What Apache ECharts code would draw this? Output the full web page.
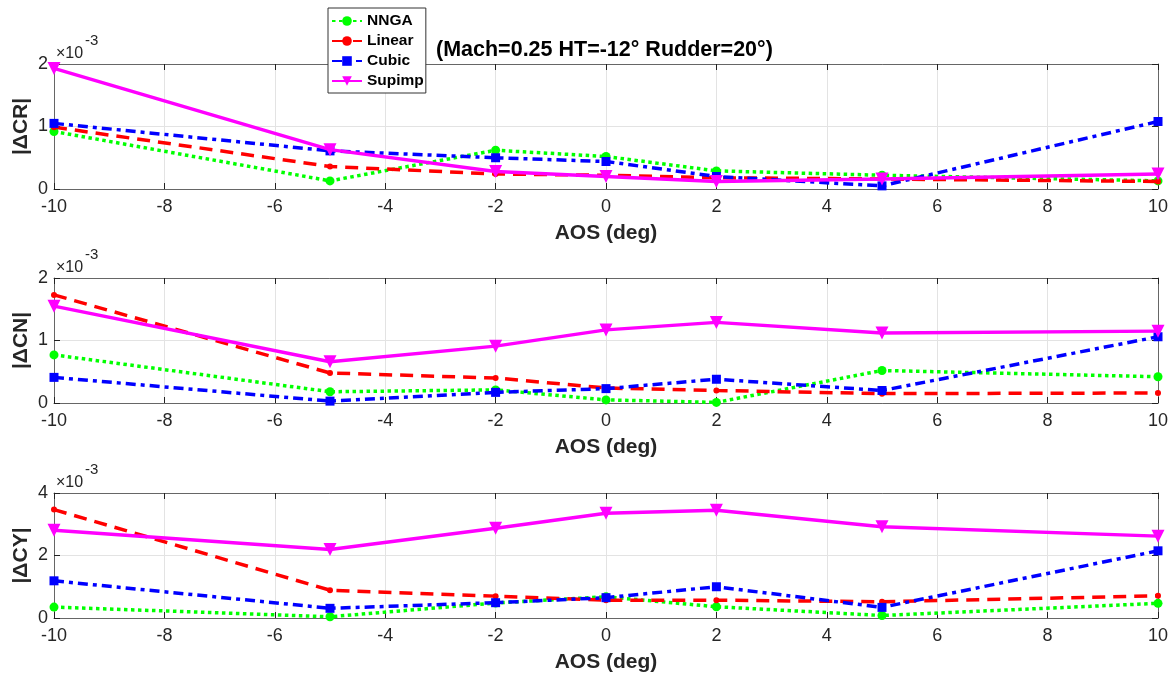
<!DOCTYPE html>
<html>
<head>
<meta charset="utf-8">
<script src="https://cdn.jsdelivr.net/npm/echarts@6/dist/echarts.min.js"></script>
<style>html,body{margin:0;padding:0;background:#fff;}#c{width:1175px;height:678px;}</style>
</head>
<body>
<div id="c"></div>
<script>
// AOS (deg)
const aos = [-10, -5, -2, 0, 2, 5, 10];
const seriesNames = ['NNGA', 'Linear', 'Cubic', 'Supimp'];
// values in units of 1e-3
const crNNGA   = [0.92, 0.13, 0.62, 0.52, 0.29, 0.22, 0.13];
const crLinear = [0.99, 0.36, 0.24, 0.22, 0.18, 0.16, 0.12];
const crCubic  = [1.05, 0.61, 0.50, 0.44, 0.20, 0.05, 1.08];
const crSupimp = [1.93, 0.63, 0.28, 0.20, 0.12, 0.16, 0.24];

const cnNNGA   = [0.77, 0.18, 0.21, 0.05, 0.01, 0.52, 0.42];
const cnLinear = [1.73, 0.48, 0.40, 0.24, 0.20, 0.15, 0.16];
const cnCubic  = [0.41, 0.03, 0.17, 0.23, 0.38, 0.20, 1.06];
const cnSupimp = [1.55, 0.66, 0.91, 1.17, 1.29, 1.12, 1.15];

const cyNNGA   = [0.35, 0.04, 0.48, 0.68, 0.36, 0.08, 0.47];
const cyLinear = [3.47, 0.89, 0.70, 0.57, 0.57, 0.52, 0.71];
const cyCubic  = [1.19, 0.31, 0.49, 0.65, 1.00, 0.34, 2.15];
const cySupimp = [2.81, 2.19, 2.87, 3.35, 3.45, 2.92, 2.62];

const yNames = ['|\u0394CR|', '|\u0394CN|', '|\u0394CY|'];
const yMax = [2, 2, 4];
const yInterval = [1, 1, 2];
const xLabel = 'AOS (deg)';
const titleText = '(Mach=0.25 HT=-12\u00b0 Rudder=20\u00b0)';
const expBase = '\u00d710';
const expPow = '-3';

const panels = [
  [crNNGA, crLinear, crCubic, crSupimp],
  [cnNNGA, cnLinear, cnCubic, cnSupimp],
  [cyNNGA, cyLinear, cyCubic, cySupimp]
];

const styles = [
  {color: '#00ff00', type: [3.5, 3.5], symbol: 'circle', size: 9, rot: 0},
  {color: '#ff0000', type: [13, 8], symbol: 'circle', size: 6, rot: 0},
  {color: '#0000ff', type: [10, 5, 4, 5], symbol: 'rect', size: 9, rot: 0},
  {color: '#ff00ff', type: 'solid', symbol: 'triangle', size: 13, rot: 180}
];

const tops = [64, 278, 493];
const gridH = 125;
const font = 'Liberation Sans, Arial, sans-serif';
const axisColor = '#666';

const grids = [], xAxes = [], yAxes = [], series = [], titles = [];
titles.push({text: titleText, left: 431, top: 34,
  textStyle: {fontFamily: font, fontSize: 21.5, fontWeight: 'bold', color: '#000'}});

tops.forEach((t, i) => {
  grids.push({left: 54, right: 17, top: t, height: gridH});
  xAxes.push({type: 'value', gridIndex: i, min: -10, max: 10, interval: 2, position: 'bottom',
    name: xLabel, nameLocation: 'middle', nameGap: 34, nameMoveOverlap: false,
    nameTextStyle: {fontFamily: font, fontSize: 21, fontWeight: 'bold', color: '#262626'},
    axisLine: {show: true, onZero: false, lineStyle: {color: axisColor}},
    axisTick: {show: true, inside: true, length: 6, lineStyle: {color: '#222'}},
    axisLabel: {fontFamily: font, fontSize: 18, color: '#262626', margin: 9},
    splitLine: {show: true, lineStyle: {color: '#e3e3e3'}}});
  xAxes.push({type: 'value', gridIndex: i, min: -10, max: 10, interval: 2, position: 'top',
    axisLine: {show: true, onZero: false, lineStyle: {color: axisColor}},
    axisTick: {show: true, inside: true, length: 6, lineStyle: {color: '#222'}},
    axisLabel: {show: false}, splitLine: {show: false}});
  yAxes.push({type: 'value', gridIndex: i, min: 0, max: yMax[i], interval: yInterval[i], position: 'left',
    name: yNames[i], nameLocation: 'middle', nameGap: 22, nameRotate: 90, nameMoveOverlap: false,
    nameTextStyle: {fontFamily: font, fontSize: 21, fontWeight: 'bold', color: '#262626'},
    axisLine: {show: true, onZero: false, lineStyle: {color: axisColor}},
    axisTick: {show: true, inside: true, length: 6, lineStyle: {color: '#222'}},
    axisLabel: {fontFamily: font, fontSize: 18, color: '#262626', margin: 6},
    splitLine: {show: true, lineStyle: {color: '#e3e3e3'}}});
  yAxes.push({type: 'value', gridIndex: i, min: 0, max: yMax[i], interval: yInterval[i], position: 'right',
    axisLine: {show: true, onZero: false, lineStyle: {color: axisColor}},
    axisTick: {show: true, inside: true, length: 6, lineStyle: {color: '#222'}},
    axisLabel: {show: false}, splitLine: {show: false}});
  titles.push({text: expBase, left: 56, top: t - 18, padding: 0,
    textStyle: {fontFamily: font, fontSize: 16, fontWeight: 'normal', color: '#262626'}});
  titles.push({text: expPow, left: 85, top: t - 31, padding: 0,
    textStyle: {fontFamily: font, fontSize: 15, fontWeight: 'normal', color: '#262626'}});
  panels[i].forEach((vals, k) => {
    const s = styles[k];
    series.push({type: 'line', name: seriesNames[k], xAxisIndex: 2 * i, yAxisIndex: 2 * i,
      data: aos.map((x, j) => [x, vals[j]]),
      symbol: s.symbol, symbolSize: s.size, symbolRotate: s.rot, showSymbol: true,
      itemStyle: {color: s.color},
      lineStyle: {color: s.color, width: 3.5, type: s.type},
      z: 2 + k, animation: false});
  });
});

const chart = echarts.init(document.getElementById('c'));
chart.setOption({
  animation: false,
  backgroundColor: '#fff',
  title: titles,
  legend: {data: seriesNames, orient: 'vertical', left: 328, top: 8, itemGap: 4,
    itemWidth: 30, itemHeight: 12,
    backgroundColor: '#fff', borderColor: '#333', borderWidth: 1, padding: [5, 2, 4, 3],
    textStyle: {fontFamily: font, fontSize: 15.5, fontWeight: 'bold', color: '#000', lineHeight: 16}},
  grid: grids, xAxis: xAxes, yAxis: yAxes, series: series
});
</script>
</body>
</html>
